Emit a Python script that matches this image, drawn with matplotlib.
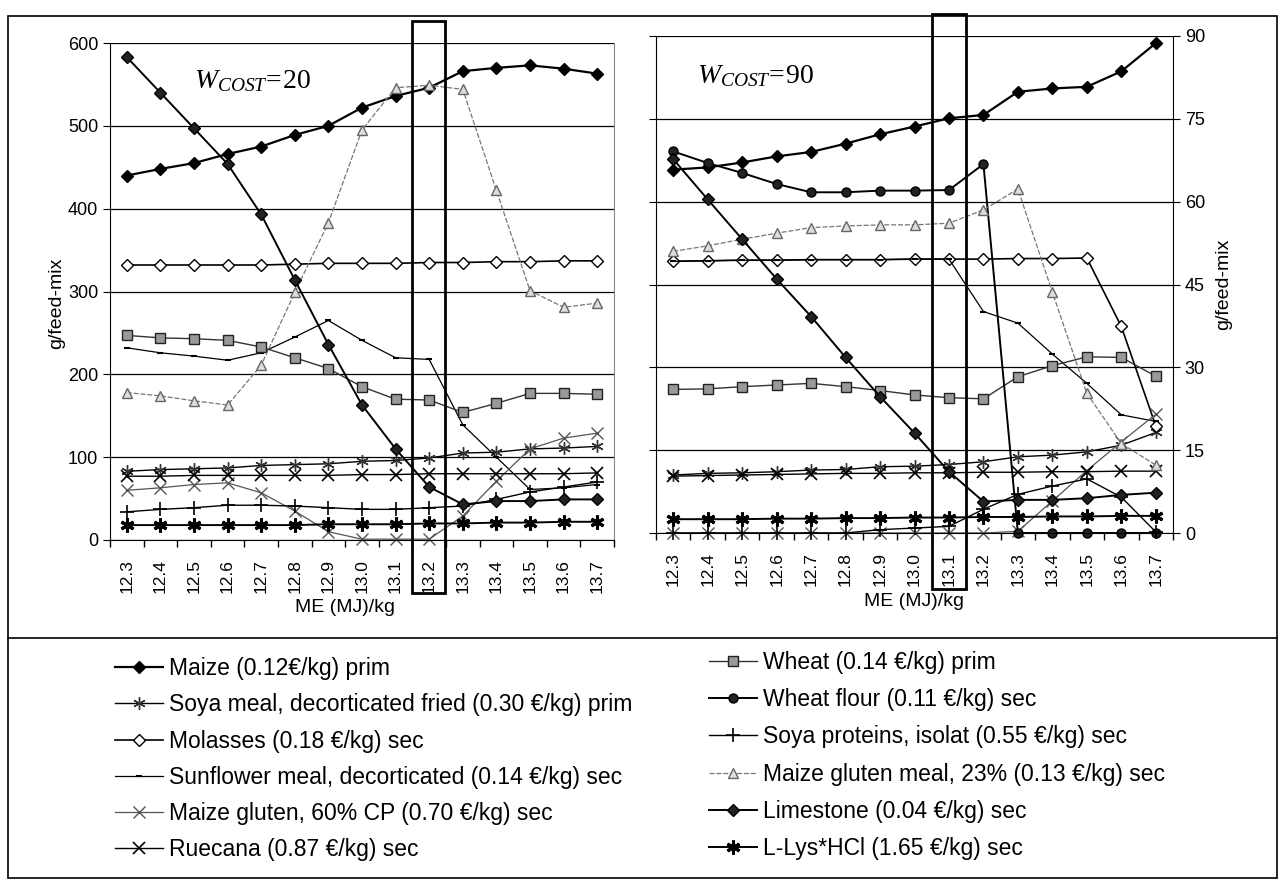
import numpy as np
import matplotlib
matplotlib.use("Agg")
import matplotlib.pyplot as plt
from matplotlib.lines import Line2D
from matplotlib.patches import Rectangle

plt.rcParams['font.family'] = ['Liberation Sans', 'DejaVu Sans']
plt.rcParams['mathtext.fontset'] = 'custom'
plt.rcParams['mathtext.it'] = 'Liberation Serif:italic'
plt.rcParams['mathtext.rm'] = 'Liberation Serif'

# ---- data (g/feed-mix) ----
me = [12.3, 12.4, 12.5, 12.6, 12.7, 12.8, 12.9, 13.0, 13.1, 13.2, 13.3, 13.4, 13.5, 13.6, 13.7]
me_labels = ["%.1f" % v for v in me]

# W_cost = 20
maize_20 = [440, 448, 455, 466, 475, 489, 500, 522, 536, 546, 566, 570, 573, 569, 563]
soya_meal_20 = [83, 85, 86, 87, 90, 91, 92, 95, 96, 99, 105, 106, 110, 111, 113]
molasses_20 = [332, 332, 332, 332, 332, 333, 334, 334, 334, 335, 335, 336, 336, 337, 337]
sunflower_20 = [232, 226, 222, 217, 226, 245, 265, 241, 220, 218, 139, 100, 61, 63, 67]
gluten60_20 = [60, 63, 67, 69, 57, 35, 10, 1, 1, 1, 29, 71, 110, 123, 129]
ruecana_20 = [77, 77, 78, 78, 78, 78, 78, 79, 79, 80, 80, 80, 80, 80, 81]
wheat_20 = [247, 244, 243, 241, 233, 220, 207, 185, 170, 169, 154, 165, 177, 177, 176]
soya_prot_20 = [34, 37, 39, 42, 42, 41, 39, 37, 37, 39, 41, 49, 58, 64, 70]
gluten23_20 = [178, 174, 168, 163, 211, 299, 383, 495, 546, 549, 544, 422, 301, 281, 286]
limestone_20 = [583, 540, 497, 454, 393, 314, 236, 163, 110, 64, 43, 47, 47, 49, 49]
llys_20 = [18, 18, 18, 18, 18, 18, 19, 19, 19, 20, 20, 21, 21, 22, 22]

# W_cost = 90
maize_90 = [65.8, 66.2, 67.1, 68.2, 69.0, 70.5, 72.2, 73.6, 75.1, 75.7, 79.9, 80.5, 80.8, 83.6, 88.7]
soya_meal_90 = [10.5, 10.8, 10.9, 11.1, 11.4, 11.5, 12.0, 12.1, 12.4, 12.9, 13.8, 14.1, 14.7, 15.9, 18.2]
molasses_90 = [49.2, 49.3, 49.4, 49.4, 49.5, 49.5, 49.5, 49.6, 49.6, 49.6, 49.7, 49.7, 49.8, 37.4, 19.4]
sunflower_90 = [49.2, 49.3, 49.4, 49.4, 49.5, 49.5, 49.5, 49.6, 49.6, 40.1, 38.0, 32.4, 27.1, 21.4, 20.2]
gluten60_90 = [0, 0, 0, 0, 0, 0, 0, 0, 0, 0, 0.3, 5.8, 11.3, 16.5, 21.5]
ruecana_90 = [10.3, 10.4, 10.5, 10.6, 10.7, 10.8, 10.8, 10.9, 10.9, 11.0, 11.0, 11.1, 11.1, 11.2, 11.2]
wheat_90 = [26.0, 26.1, 26.5, 26.8, 27.1, 26.5, 25.8, 25.0, 24.5, 24.3, 28.3, 30.3, 31.9, 31.8, 28.4]
wheat_flour_90 = [69.1, 67.0, 65.2, 63.2, 61.7, 61.7, 62.0, 62.0, 62.1, 66.8, 0, 0, 0, 0, 0]
soya_prot_90 = [0, 0, 0, 0, 0, 0, 0.6, 0.9, 1.2, 4.3, 7.0, 8.5, 9.8, 6.5, 0.2]
gluten23_90 = [51.0, 52.0, 53.2, 54.3, 55.3, 55.6, 55.8, 55.8, 56.1, 58.5, 62.3, 43.6, 25.3, 16.2, 12.3]
limestone_90 = [67.7, 60.4, 53.2, 46.0, 39.2, 31.8, 24.7, 18.1, 11.1, 5.7, 6.0, 6.0, 6.3, 6.9, 7.3]
llys_90 = [2.5, 2.5, 2.5, 2.6, 2.6, 2.7, 2.7, 2.8, 2.8, 2.9, 2.9, 3.0, 3.0, 3.1, 3.1]

labels = ["Maize (0.12\u20ac/kg) prim",
          "Soya meal, decorticated fried (0.30 \u20ac/kg) prim",
          "Molasses (0.18 \u20ac/kg) sec",
          "Sunflower meal, decorticated (0.14 \u20ac/kg) sec",
          "Maize gluten, 60% CP (0.70 \u20ac/kg) sec",
          "Ruecana (0.87 \u20ac/kg) sec",
          "Wheat (0.14 \u20ac/kg) prim",
          "Wheat flour (0.11 \u20ac/kg) sec",
          "Soya proteins, isolat (0.55 \u20ac/kg) sec",
          "Maize gluten meal, 23% (0.13 \u20ac/kg) sec",
          "Limestone (0.04 \u20ac/kg) sec",
          "L-Lys*HCl (1.65 \u20ac/kg) sec"]

aster = (6, 2, 0)
styles = [
    dict(color='black', lw=1.6, marker='D', ms=6, mfc='black', mec='black'),
    dict(color='black', lw=1.0, marker=aster, ms=9, mec='#333333', mew=1.0),
    dict(color='black', lw=1.2, marker='D', ms=6.5, mfc='white', mec='black', mew=1.0),
    dict(color='black', lw=0.9, marker='_', ms=5, mec='black', mew=1.5),
    dict(color='#555555', lw=0.9, marker='x', ms=8, mec='#555555', mew=1.0),
    dict(color='black', lw=1.0, marker='x', ms=8, mec='black', mew=1.2),
    dict(color='#333333', lw=1.0, marker='s', ms=6.5, mfc='#999999', mec='#222222', mew=1.0),
    dict(color='black', lw=1.4, marker='o', ms=6.5, mfc='#222222', mec='black'),
    dict(color='black', lw=1.0, marker='+', ms=10, mec='black', mew=1.2),
    dict(color='#777777', lw=0.9, ls=(0, (4, 1.5)), marker='^', ms=7, mfc='#dddddd', mec='#666666', mew=1.0),
    dict(color='black', lw=1.4, marker='D', ms=6.5, mfc='#222222', mec='black'),
    dict(color='black', lw=1.4, marker=aster, ms=10, mec='black', mew=2.2),
]

W, H = 1280, 881
fig = plt.figure(figsize=(12.8, 8.81), dpi=100)


def fbox(x0, y0, x1, y1):
    return [x0 / W, 1 - y1 / H, (x1 - x0) / W, (y1 - y0) / H]


x = np.arange(len(me))


def setup(ax, ymax, step):
    ax.set_xlim(-0.5, len(me) - 0.5)
    ax.set_ylim(0, ymax)
    ax.set_yticks(np.arange(0, ymax + 1, step))
    ax.set_xticks(x)
    ax.set_xticklabels(me_labels, rotation=90, fontsize=12.5)
    ax.tick_params(axis='x', length=0, pad=14)
    ax.set_xticks(np.arange(-0.5, len(me), 1), minor=True)
    ax.tick_params(axis='x', which='minor', length=5, width=1, direction='out')
    ax.grid(axis='y', color='black', lw=0.9)
    ax.set_axisbelow(True)
    ax.spines['top'].set_visible(False)


# left panel
ax1 = fig.add_axes(fbox(110, 43, 614, 540))
setup(ax1, 600, 100)
ax1.tick_params(axis='y', labelsize=13, length=5, direction='out')
ax1.spines['right'].set_color('#888888')
ax1.spines['right'].set_linewidth(0.8)
series_20 = [maize_20, soya_meal_20, molasses_20, sunflower_20, gluten60_20, ruecana_20,
             wheat_20, None, soya_prot_20, gluten23_20, limestone_20, llys_20]
for vals, st in zip(series_20, styles):
    if vals is not None:
        ax1.plot(x, vals, clip_on=False, **st)

# right panel
ax2 = fig.add_axes(fbox(656, 36, 1173, 533))
setup(ax2, 90, 15)
ax2.yaxis.tick_right()
ax2.tick_params(axis='y', labelsize=13, length=5, direction='out', left=True, right=True)
ax2.spines['left'].set_linewidth(0.8)
series_90 = [maize_90, soya_meal_90, molasses_90, sunflower_90, gluten60_90, ruecana_90,
             wheat_90, wheat_flour_90, soya_prot_90, gluten23_90, limestone_90, llys_90]
for vals, st in zip(series_90, styles):
    ax2.plot(x, vals, clip_on=False, **st)

# axis titles
fig.text(57 / W, 1 - 303 / H, "g/feed-mix", rotation=90, ha='center', va='center', fontsize=14)
fig.text(1224 / W, 1 - 284 / H, "g/feed-mix", rotation=90, ha='center', va='center', fontsize=14)
fig.text(345 / W, 1 - 607 / H, "ME (MJ)/kg", ha='center', va='center', fontsize=14)
fig.text(914 / W, 1 - 601 / H, "ME (MJ)/kg", ha='center', va='center', fontsize=14)

fig.text(194 / W, 1 - 88 / H, r"$\mathit{W_{COST}\!{=}\!20}$", fontsize=20, va='baseline')
fig.text(697 / W, 1 - 83 / H, r"$\mathit{W_{COST}\!{=}\!90}$", fontsize=20, va='baseline')

# highlight boxes
fig.patches.append(Rectangle((412 / W, 1 - 593 / H), 33 / W, 572 / H, transform=fig.transFigure,
                             fill=False, ec='black', lw=2))
fig.patches.append(Rectangle((932 / W, 1 - 589 / H), 34 / W, 575 / H, transform=fig.transFigure,
                             fill=False, ec='black', lw=2))

# frame and separator
fig.patches.append(Rectangle((8 / W, 1 - 878 / H), 1269 / W, 862 / H, transform=fig.transFigure,
                             fill=False, ec='black', lw=1.2))
fig.lines.append(Line2D([8 / W, 1277 / W], [1 - 638 / H, 1 - 638 / H], transform=fig.transFigure,
                        color='black', lw=1.2))

# legend
handles = [Line2D([], [], **st) for st in styles]
leg_kw = dict(loc='upper left', frameon=False, fontsize=16.5, handlelength=2.1,
              handletextpad=0.25, borderaxespad=0, borderpad=0)
fig.legend(handles[:6], labels[:6], bbox_to_anchor=(115 / W, 1 - 657 / H), labelspacing=0.58, **leg_kw)
fig.legend(handles[6:], labels[6:], bbox_to_anchor=(709 / W, 1 - 651 / H), labelspacing=0.62, **leg_kw)

fig.savefig("out.png", dpi=100)
